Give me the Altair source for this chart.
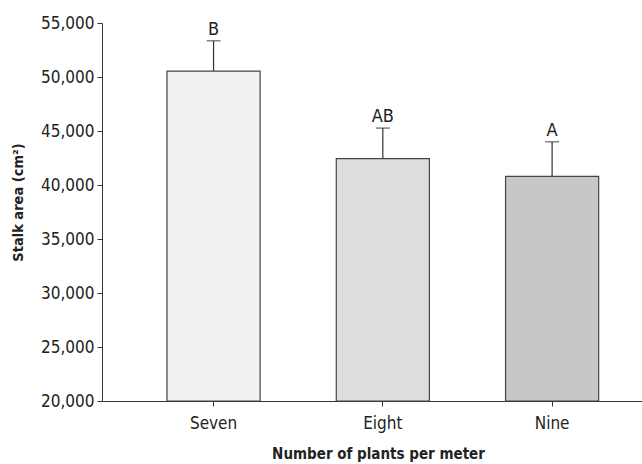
import altair as alt
import pandas as pd

# Stalk area by planting density, with standard-error bars and Tukey letters
densities = ["Seven", "Eight", "Nine"]
mean_area = [50550, 42450, 40800]
error_area = [2800, 2820, 3200]
letters = ["B", "AB", "A"]
fills = ["#f0f1f3", "#dcdddf", "#c6c7c9"]

df = pd.DataFrame({
    "density": densities,
    "area": mean_area,
    "err": error_area,
    "letter": letters,
    "fill": fills,
})
df["upper"] = df["area"] + df["err"]

FONT = "DejaVu Sans Condensed"

x_enc = alt.X(
    "density:N",
    sort=densities,
    title="Number of plants per meter",
    scale=alt.Scale(paddingInner=0.45, paddingOuter=0.32, align=0.6),
    axis=alt.Axis(
        labelAngle=0, labelFontSize=17, labelFont=FONT, labelColor="#222",
        labelPadding=9, tickSize=5, tickColor="#333", domainColor="#333",
        titleFont=FONT, titleFontSize=15, titleFontWeight="bold",
        titleColor="#222", titlePadding=15, titleX=276,
    ),
)
y_scale = alt.Scale(domain=[20000, 55000], nice=False, zero=False)

base = alt.Chart(df)

bars = base.mark_bar(stroke="#444", strokeWidth=1.2).encode(
    x=x_enc,
    y=alt.Y(
        "area:Q",
        scale=y_scale,
        title="Stalk area (cm²)",
        axis=alt.Axis(
            values=[20000, 25000, 30000, 35000, 40000, 45000, 50000, 55000],
            format=",.0f", grid=False, labelFontSize=17, labelFont=FONT,
            labelColor="#222", tickSize=5, tickColor="#333",
            domainColor="#333", labelPadding=3,
            titleFont=FONT, titleFontSize=14.5, titleFontWeight="bold",
            titleColor="#222", titlePadding=15, titleY=179,
        ),
    ),
    y2=alt.Y2(datum=20000),
    fill=alt.Fill("fill:N", scale=None),
)

stems = base.mark_rule(color="#333", strokeWidth=1.2).encode(
    x=alt.X("density:N", sort=densities),
    y=alt.Y("area:Q", scale=y_scale),
    y2="upper:Q",
)

caps = base.mark_tick(color="#333", thickness=1.3, size=14, orient="horizontal").encode(
    x=alt.X("density:N", sort=densities),
    y=alt.Y("upper:Q", scale=y_scale),
)

labels = base.mark_text(
    font=FONT, fontSize=18, color="#222", baseline="bottom", dy=-2
).encode(
    x=alt.X("density:N", sort=densities),
    y=alt.Y("upper:Q", scale=y_scale),
    text="letter:N",
)

chart = (
    alt.layer(bars, stems, caps, labels)
    .properties(
        width=540,
        height=378,
        autosize=alt.AutoSizeParams(type="none"),
        padding={"left": 102, "top": 23, "right": 0, "bottom": 63},
        background="white",
    )
    .configure_view(stroke=None)
)

chart.save("out.html", embed_options={"renderer": "svg", "actions": False})
